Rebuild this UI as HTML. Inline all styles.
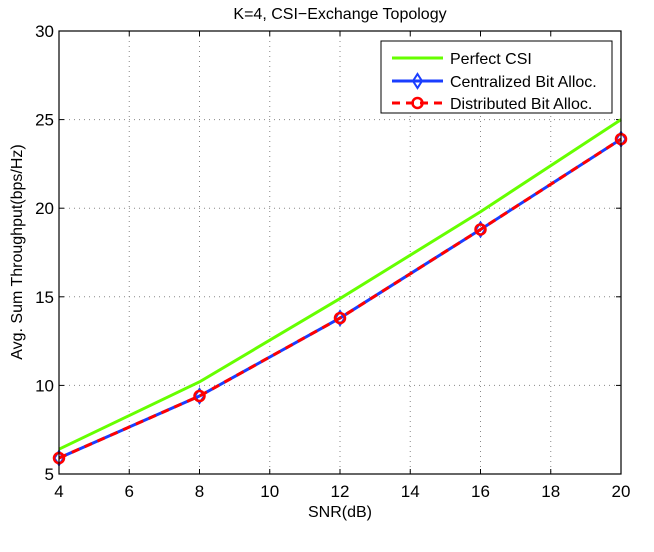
<!DOCTYPE html>
<html><head><meta charset="utf-8"><style>
body{margin:0;background:#fff;}
svg{display:block;font-family:"Liberation Sans",Arial,sans-serif;}
</style></head><body>
<svg id="chart" width="654" height="552" viewBox="0 0 654 552">
<rect x="0" y="0" width="654" height="552" fill="#fff"/>
<g id="grid"></g>
<g id="ticks"></g>
<g id="series"></g>
<rect x="59" y="31" width="562" height="443" fill="none" stroke="#000" stroke-width="1.2"/>
<text x="340" y="19" font-size="16" text-anchor="middle">K=4, CSI−Exchange Topology</text>
<text x="340" y="517" font-size="16" text-anchor="middle">SNR(dB)</text>
<text transform="translate(22,252) rotate(-90)" font-size="16" text-anchor="middle">Avg. Sum Throughput(bps/Hz)</text>
<g>
<rect x="381" y="41" width="231" height="72" fill="#fff" stroke="#000" stroke-width="1"/>
<g>
<line x1="392" y1="58" x2="443" y2="58" stroke="#66ff00" stroke-width="3"/>
<text x="450" y="64" font-size="16">Perfect CSI</text></g>
<g>
<line x1="392" y1="81" x2="443" y2="81" stroke="#1a3dff" stroke-width="3"/>
<polygon points="417.5,74 422,81 417.5,88 413,81" fill="none" stroke="#1a3dff" stroke-width="2"/>
<text x="450" y="87" font-size="16">Centralized Bit Alloc.</text></g>
<g>
<line x1="392" y1="103" x2="443" y2="103" stroke="#ff0000" stroke-width="3" stroke-dasharray="8,6"/>
<circle cx="417.5" cy="103" r="5" fill="none" stroke="#ff0000" stroke-width="2.5"/>
<text x="450" y="109" font-size="16">Distributed Bit Alloc.</text></g>
</g>
</svg>
<script>
const snr=[4,8,12,16,20];
const perfect=[6.4,10.2,14.9,19.8,25.0];
const centralized=[5.9,9.4,13.8,18.8,23.9];
const distributed=[5.9,9.4,13.8,18.8,23.9];
const xTicks=[4,6,8,10,12,14,16,18,20];
const yTicks=[5,10,15,20,25,30];
const L=59,R=621,T=31,B=474;
const xs=v=>L+(v-4)/(20-4)*(R-L);
const ys=v=>B-(v-5)/(30-5)*(B-T);
const NS="http://www.w3.org/2000/svg";
function mk(tag,attrs,parent){const e=document.createElementNS(NS,tag);for(const k in attrs)e.setAttribute(k,attrs[k]);parent.appendChild(e);return e;}
const grid=document.getElementById('grid'),ticks=document.getElementById('ticks'),ser=document.getElementById('series');
xTicks.forEach(t=>{const x=xs(t);
 const g=mk('line',{x1:x,y1:T,x2:x,y2:B,stroke:'#888','stroke-width':1,'stroke-dasharray':'1,4'},grid);
 
 
 const tl=mk('text',{x:x,y:497,'font-size':17,'text-anchor':'middle'},ticks);tl.textContent=t;
 
 
 mk('line',{x1:x,y1:B,x2:x,y2:B-5,stroke:'#000'},ticks);mk('line',{x1:x,y1:T,x2:x,y2:T+5,stroke:'#000'},ticks);});
yTicks.forEach(t=>{const y=ys(t);
 const g=mk('line',{x1:L,y1:y,x2:R,y2:y,stroke:'#888','stroke-width':1,'stroke-dasharray':'1,4'},grid);
 
 
 const tl=mk('text',{x:L-5,y:y+6,'font-size':17,'text-anchor':'end'},ticks);tl.textContent=t;
 
 
 mk('line',{x1:L,y1:y,x2:L+5,y2:y,stroke:'#000'},ticks);mk('line',{x1:R,y1:y,x2:R-5,y2:y,stroke:'#000'},ticks);});
function pts(arr){return arr.map((v,i)=>xs(snr[i])+','+ys(v)).join(' ');}
const p1=mk('polyline',{points:pts(perfect),fill:'none',stroke:'#66ff00','stroke-width':3},ser);


const p2=mk('polyline',{points:pts(centralized),fill:'none',stroke:'#1a3dff','stroke-width':3},ser);


centralized.forEach((v,i)=>{const x=xs(snr[i]),y=ys(v);
 const m=mk('polygon',{points:`${x},${y-7} ${x+4.5},${y} ${x},${y+7} ${x-4.5},${y}`,fill:'none',stroke:'#1a3dff','stroke-width':2},ser);
 
 });
const p3=mk('polyline',{points:pts(distributed),fill:'none',stroke:'#ff0000','stroke-width':3,'stroke-dasharray':'8,6'},ser);


distributed.forEach((v,i)=>{const m=mk('circle',{cx:xs(snr[i]),cy:ys(v),r:5,fill:'none',stroke:'#ff0000','stroke-width':2.5},ser);
 
 });
</script>
</body></html>
